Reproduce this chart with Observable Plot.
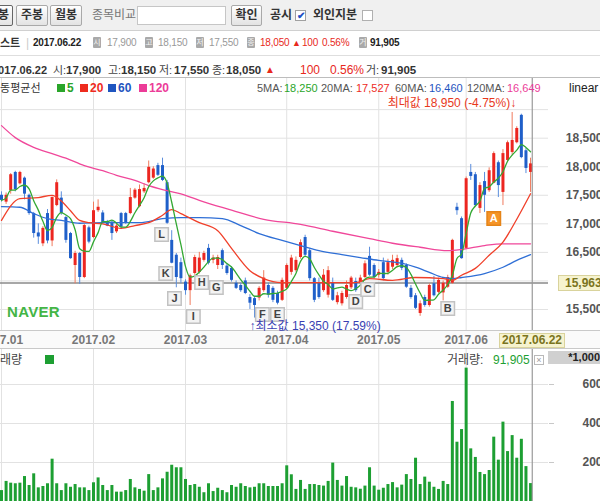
<!DOCTYPE html>
<html><head><meta charset="utf-8">
<script src="https://cdn.jsdelivr.net/npm/d3@7"></script>
<script src="https://cdn.jsdelivr.net/npm/@observablehq/plot@0.6"></script>
<style>
html,body{margin:0;padding:0;background:#fff;}
#root{position:relative;width:600px;height:504px;overflow:hidden;font-family:"Liberation Sans","Noto Sans CJK KR",sans-serif;font-size:12px;color:#333;}
.btn{position:absolute;top:5px;height:19px;border:1px solid #a9a9a9;border-radius:2px;background:linear-gradient(#ffffff,#e3e3e3);font-weight:bold;font-size:12px;line-height:19px;text-align:center;color:#333;}
.ico{display:inline-block;position:absolute;width:8px;height:11px;background:#a9a9a9;color:#f4f4f4;font-size:8px;line-height:11px;text-align:center;border-radius:1px;}
svg{position:absolute;left:0;}
</style></head>
<body><div id="root"></div>
<script>
// ---------------- data ----------------
const monthIdx = [0, 20, 40, 62, 82, 101];
const monthLabels = ["2017.01", "2017.02", "2017.03", "2017.04", "2017.05", "2017.06"];
const priceGrid = [15500, 16000, 16500, 17000, 17500, 18000, 18500, 19000];
const priceTicks = [15500, 16500, 17000, 17500, 18000, 18500];
const volTicks = [200, 400, 600];

const open = [17500,17380,17580,17900,17700,17800,17500,17180,16840,16650,17180,16700,17320,17450,17110,16830,16270,16480,16060,16930,
16760,17230,17190,17020,17030,16860,17180,17180,17180,17450,17300,17560,17720,17800,18020,18020,17720,16710,16450,16320,
15980,15830,16130,16150,16360,16570,16360,16270,16530,16260,16220,15960,15920,16000,15710,15690,15700,15830,15920,15870,15780,15660,
15870,16150,16180,16410,16760,16530,16040,15970,15830,15750,15970,15620,15600,15710,15880,15990,15960,16060,
16430,16270,16100,16320,16150,16240,16270,16360,16270,15870,15740,15430,15710,15570,15950,15800,15790,15890,15960,17290,17090,
16570,17900,17860,17270,17740,17580,17710,18070,17550,18110,18250,18420,18900,18280,17900];
const high = [17560,17540,17880,17920,17920,17820,17520,17200,17000,16950,17250,17470,17770,17560,17130,16850,16520,16500,16990,16960,
17380,17420,17230,17060,17050,17000,17200,17200,17620,17620,17680,17700,18100,18000,18060,18150,17760,16880,16480,16400,
16020,16120,16450,16500,16520,16640,16450,16450,16560,16300,16250,16000,15960,16050,15760,15720,15900,16180,15960,15900,15820,16050,
16300,16450,16420,16720,16800,16560,16060,16050,16200,16250,16050,15800,15820,16000,16080,16050,16100,16350,
16590,16300,16200,16400,16380,16450,16450,16400,16300,15920,15780,15650,15750,15950,16080,16050,16000,16100,16730,17360,17120,
17820,18040,17900,17720,17900,17980,18260,18100,18300,18450,18950,18700,18920,18320,18150];
const low = [17380,17340,17520,17560,17680,17420,17150,16750,16640,16600,16650,16600,17300,17150,16660,16380,15950,15940,16040,16650,
16740,17200,16990,16950,16710,16830,16900,16990,17160,17430,17280,17530,17700,17780,17830,17740,16990,16300,15880,15950,
15750,15570,16100,16120,16330,16280,16300,16200,16200,16100,15980,15850,15800,15760,15500,15350,15650,15800,15700,15620,15580,15640,
15850,16100,16150,16380,16420,16000,15620,15680,15800,15700,15640,15580,15560,15680,15850,15800,15930,16040,
16080,16030,16050,16000,16100,16200,16230,16180,15870,15680,15500,15380,15540,15540,15720,15780,15650,15870,15940,17150,16380,
16550,17760,17300,17180,17200,17550,17700,17460,17320,18090,18200,18400,18140,17880,17550];
const close = [17410,17500,17860,17600,17900,17520,17180,16830,16770,16920,16700,17460,17720,17180,16710,16390,16480,16060,16970,16680,
17230,17290,17020,16960,16830,16960,16940,17020,17460,17590,17600,17620,17990,17960,17850,17760,17010,16310,16060,16040,
15830,16090,16410,16400,16480,16310,16400,16410,16270,16130,16010,15870,15830,15780,15610,15570,15870,16050,15750,15660,15610,16010,
16270,16400,16360,16670,16450,16040,15660,15710,16100,16180,15660,15740,15780,15920,16050,15830,16050,16300,
16100,16060,16150,16040,16320,16360,16390,16220,15890,15710,15520,15600,15570,15920,15740,16010,15960,16060,16710,17230,16390,
17790,17830,17320,17670,17500,17930,18230,17670,18230,18420,18460,18670,18160,17970,18050];
// volume, in thousands of shares
const volume = [56,103,94,91,94,128,82,142,70,77,91,217,91,56,91,73,87,70,70,56,
96,121,82,56,82,48,48,56,113,70,62,53,138,56,70,116,150,186,173,173,
113,82,87,73,45,91,51,68,56,45,82,73,91,77,70,73,91,91,77,77,77,91,
183,137,62,108,62,87,87,82,79,103,197,108,79,128,73,70,63,79,173,79,
58,68,87,97,70,84,138,113,222,87,125,99,73,62,103,87,513,304,369,
684,270,226,149,138,159,330,212,407,256,338,222,319,179,91.905];

const ma20Idx = [0,4,8,11,13,15,17,19,22,26,29,32,35,37,39,43,47,50,54,57,61,65,71,77,80,85,90,96,98,100,103,106,109,112,115];
const ma20Val = [17060,17440,17460,17500,17400,17230,17060,17020,17000,16920,16970,17020,17150,17250,17180,17020,16880,16570,16180,16040,15970,15970,15970,15970,16040,16010,16060,16040,16010,16100,16220,16450,16680,17080,17527];
const ma60Idx = [0,4,7,10,13,17,22,26,30,35,39,43,48,52,56,61,65,69,74,78,82,87,90,93,96,98,100,105,109,112,115];
const ma60Val = [17300,17290,17180,17090,17060,17010,17020,17020,17020,17090,17110,17110,17090,16970,16830,16710,16620,16530,16460,16410,16360,16310,16240,16150,16060,16040,16060,16130,16240,16360,16460];
const ma120Idx = [0,3,7,11,14,18,22,25,29,32,36,40,43,50,57,65,72,80,85,91,97,100,105,109,115];
const ma120Val = [18720,18510,18340,18230,18150,18020,17930,17850,17760,17670,17580,17500,17410,17240,17080,16990,16870,16740,16660,16590,16530,16550,16620,16650,16649];

const annLetters = ["L","K","J","I","H","G","F","E","D","C","B","A"];
const annIdx = [34.8,35.7,37.6,41.7,43.5,46.7,56.7,60,77,79.6,97,107];
const annPrice = [16814,16131,15693,15378,15973,15886,15413,15413,15640,15851,15518,17094];

const crossIdx = 115, crossPrice = 15963, crossDate = "2017.06.22";
const minIdx = 55, minPrice = 15350, minText = "↑최소값 15,350 (17.59%)";
const maxIdx = 111, maxPrice = 18950, maxText = "최대값 18,950 (-4.75%)↓";

// ---------------- build ----------------
const FONT = '"Liberation Sans","Noto Sans CJK KR",sans-serif';
const root = document.getElementById("root");
function put(txt, x, cy, css) {
  const s = document.createElement("span");
  s.textContent = txt;
  s.style.cssText = `position:absolute;left:${x}px;top:${cy - 8}px;line-height:16px;white-space:nowrap;`;
  Object.assign(s.style, css || {});
  root.appendChild(s);
  return s;
}
function box(x, y, w, h, css) {
  const d = document.createElement("div");
  d.style.cssText = `position:absolute;left:${x}px;top:${y}px;width:${w}px;height:${h}px;box-sizing:border-box;`;
  Object.assign(d.style, css || {});
  root.appendChild(d);
  return d;
}

// toolbar
box(0, 0, 600, 31, {background: "#f0f0f0", borderBottom: "1px solid #d0d0d0"});
[["일봉", -30, 43, true], ["주봉", 16, 32], ["월봉", 50, 32]].forEach(([t, x, w, sel]) => {
  const d = box(x, 5, w, 21, {});
  d.className = "btn";
  if (sel) { d.style.borderColor = "#666"; d.style.textAlign = "right"; d.style.paddingRight = "3px"; }
  d.textContent = t;
});
put("종목비교", 92, 15, {color: "#777"});
box(137, 6, 89, 19, {background: "#fff", border: "1px solid #c6c6c6"});
const ok = box(231, 5, 31, 21, {}); ok.className = "btn"; ok.textContent = "확인";
put("공시", 270, 15, {fontWeight: "bold", color: "#333"});
const cb1 = box(295, 10, 11, 11, {background: "#fff", border: "1px solid #a0a0a0", color: "#1d4fc4", fontSize: "10px", lineHeight: "9px", textAlign: "center", fontWeight: "bold"}); cb1.textContent = "✔";
put("외인지분", 313, 15, {fontWeight: "bold", color: "#333"});
box(362, 10, 11, 11, {background: "#fff", border: "1px solid #b0b0b0"});

// row 2
const R2 = {fontSize: "10px", letterSpacing: "-0.2px"};
box(0, 31, 600, 25, {background: "#fff", borderBottom: "1px solid #dedede"});
put("스트", 0, 43, {fontWeight: "bold", color: "#333", fontSize: "11px"});
put("|", 26, 43, {color: "#ccc"});
put("2017.06.22", 33, 43, {...R2, fontWeight: "bold", color: "#222"});
[["시", 93], ["고", 145], ["저", 196], ["종", 247], ["거", 359]].forEach(([t, x]) => {
  const s = document.createElement("span"); s.className = "ico"; s.textContent = t;
  s.style.left = x + "px"; s.style.top = "37px"; root.appendChild(s);
});
put("17,900", 107, 43, {...R2, color: "#999"});
put("18,150", 158, 43, {...R2, color: "#999"});
put("17,550", 209, 43, {...R2, color: "#999"});
put("18,050", 260, 43, {...R2, color: "#e8281c"});
put("▲", 292, 43, {color: "#e8281c", fontSize: "9px"});
put("100", 302, 43, {...R2, color: "#e8281c"});
put("0.56%", 322, 43, {...R2, color: "#e8281c"});
put("91,905", 370, 43, {...R2, color: "#222", fontWeight: "bold"});

// row 3
box(0, 56, 600, 22, {background: "#fff", borderBottom: "1px solid #bdbdbd"});
put("2017.06.22", -8, 70, {fontWeight: "bold", color: "#333", fontSize: "11px"});
[["시:", 53, "17,900", 66], ["고:", 108, "18,150", 121], ["저:", 159, "17,550", 174], ["종:", 212, "18,050", 226]].forEach(([l, x, v, vx]) => {
  put(l, x, 70, {color: "#444", fontSize: "11px"});
  put(v, vx, 70, {color: "#333", fontWeight: "bold", fontSize: "11.5px"});
});
put("▲", 265, 70, {color: "#e8281c", fontSize: "10px"});
put("100", 300, 70, {color: "#e8281c"});
put("0.56%", 330, 70, {color: "#e8281c"});
put("거:", 366, 70, {color: "#444", fontSize: "11px"});
put("91,905", 381, 70, {color: "#333", fontWeight: "bold", fontSize: "11.5px"});

// date band behind the price svg
box(0, 330, 600, 19, {background: "#fafafa", borderTop: "1px solid #c9c9c9", borderBottom: "1px solid #c9c9c9"});

const candles = open.map((o, i) => ({i, o, h: high[i], l: low[i], c: close[i], up: close[i] >= o}));
const vols = volume.map((v, i) => ({i, v}));
const series = (idx, vals) => idx.map((i, k) => ({i, v: vals[k]}));
const ann = annLetters.map((t, k) => ({t, i: annIdx[k], p: annPrice[k], hot: t === "A"}));

const xDomain = [-0.217, 118.9];
const RED = "#ec2620", BLUE = "#1f5fc9";

const price = Plot.plot({
  width: 600, height: 271, marginTop: 0, marginBottom: 19, marginLeft: 0, marginRight: 52,
  style: {fontFamily: FONT, background: "transparent", overflow: "hidden"},
  x: {domain: xDomain, axis: null, label: null},
  y: {domain: [15132, 19545], axis: null, label: null},
  marks: [
    Plot.gridX({ticks: monthIdx, stroke: "#e2e2e2", strokeOpacity: 1}),
    Plot.gridY({ticks: priceGrid, stroke: "#e2e2e2", strokeOpacity: 1}),
    Plot.ruleY([crossPrice], {stroke: "#8a8a8a", strokeWidth: 1.5}),
    Plot.ruleX(candles, {x: "i", y1: "l", y2: "h", stroke: d => d.up ? "#f07a5c" : "#5a8ddc", strokeWidth: 1}),
    Plot.ruleX(candles, {x: "i", y1: "o", y2: "c", stroke: d => d.up ? RED : BLUE, strokeWidth: 3}),
    Plot.line(series(ma120Idx, ma120Val), {x: "i", y: "v", stroke: "#f0479a", strokeWidth: 1.3, curve: "monotone-x"}),
    Plot.line(series(ma60Idx, ma60Val), {x: "i", y: "v", stroke: "#2f6fd6", strokeWidth: 1.3, curve: "monotone-x"}),
    Plot.line(series(ma20Idx, ma20Val), {x: "i", y: "v", stroke: "#f0402a", strokeWidth: 1.3, curve: "monotone-x"}),
    Plot.lineY(candles, Plot.windowY({k: 5, anchor: "end"}, {x: "i", y: "c", stroke: "#33a833", strokeWidth: 1.3, curve: "monotone-x"})),
    Plot.ruleX([crossIdx], {stroke: "#9a9a9a", strokeWidth: 1.2, dx: 1.7}),
    Plot.dot(ann, {x: "i", y: "p", symbol: "square", r: 7.6, fill: d => d.hot ? "#f59427" : "#f3f3f3", stroke: d => d.hot ? "#e58418" : "#c2c2c2"}),
    Plot.text(ann, {x: "i", y: "p", text: "t", fill: d => d.hot ? "#fff" : "#444", fontSize: 11, fontWeight: "bold"}),
    Plot.text([{i: minIdx, p: minPrice}], {x: "i", y: "p", text: () => minText, textAnchor: "start", dx: -5, dy: 8, fill: "#3a3fb3", fontSize: 12}),
    Plot.text([{i: maxIdx, p: maxPrice}], {x: "i", y: "p", text: () => maxText, textAnchor: "end", dx: 4, dy: -9, fill: "#e8391c", fontSize: 12}),
    Plot.axisX({ticks: monthIdx, tickFormat: d => monthLabels[monthIdx.indexOf(d)], tickSize: 0, tickPadding: 5, fontWeight: "bold", fontSize: 12, fill: "#777", anchor: "bottom", label: null}),
    Plot.axisY({anchor: "right", ticks: priceTicks, tickFormat: d3.format(","), tickSize: 0, tickPadding: 54, textAnchor: "end", fontWeight: "bold", fontSize: 12, fill: "#555", label: null})
  ]
});
price.style.top = "78px";
root.appendChild(price);

const vol = Plot.plot({
  width: 600, height: 155, marginTop: 0, marginBottom: 3, marginLeft: 0, marginRight: 52,
  style: {fontFamily: FONT, background: "transparent", overflow: "hidden"},
  x: {domain: xDomain, axis: null, label: null},
  y: {domain: [0, 779.5], axis: null, label: null},
  marks: [
    Plot.gridX({ticks: monthIdx, stroke: "#e2e2e2", strokeOpacity: 1}),
    Plot.gridY({ticks: volTicks, stroke: "#e2e2e2", strokeOpacity: 1}),
    Plot.ruleX(vols, {x: "i", y1: 0, y2: "v", stroke: "#1d9f32", strokeWidth: 3}),
    Plot.ruleX([crossIdx], {stroke: "#9a9a9a", strokeWidth: 1.2, dx: 1.7}),
    Plot.axisY({anchor: "right", ticks: volTicks, tickSize: 5, tickPadding: 49, textAnchor: "end", stroke: "#c8c8c8", fontWeight: "bold", fontSize: 12, fill: "#555", label: null})
  ]
});
vol.style.top = "349px";
root.appendChild(vol);

// overlays positioned with the plot scales
const sx = price.scale("x"), sy = price.scale("y");
const cx = sx.apply(crossIdx) + 1.7;
const dBox = box(Math.round(cx - 33), 333, 66, 15, {background: "#f6f3cf", border: "1px solid #d9d39c", color: "#7a7420", fontWeight: "bold", fontSize: "12px", lineHeight: "13px", textAlign: "center"});
dBox.textContent = crossDate;
const pBox = box(558, Math.round(78 + sy.apply(crossPrice) - 8), 46, 16, {background: "#f6f3cf", border: "1px solid #d9d39c", color: "#7a7420", fontWeight: "bold", fontSize: "12px", lineHeight: "14px", paddingLeft: "6px"});
pBox.textContent = d3.format(",")(crossPrice);

// moving-average legend row inside the chart
put("이동평균선", -10, 88, {color: "#333", fontSize: "11px"});
[["5", 57, "#2aa52a"], ["20", 80, "#ee2b1e"], ["60", 108, "#1f55c0"], ["120", 139, "#ec3c98"]].forEach(([t, x, c]) => {
  box(x, 84, 8, 8, {background: c});
  put(t, x + 10, 88, {color: c, fontWeight: "bold", fontSize: "12px"});
});
[["5MA:", 257, "18,250", 284, "#2aa52a"], ["20MA:", 321, "17,527", 356, "#ee2b1e"], ["60MA:", 395, "16,460", 429, "#1f55c0"], ["120MA:", 467, "16,649", 507, "#ec3c98"]].forEach(([l, x, v, vx, c]) => {
  put(l, x, 88, {color: "#555", fontSize: "11px"});
  put(v, vx, 88, {color: c, fontSize: "11px"});
});
put("linear", 569, 88, {color: "#222", fontSize: "12px"});
put("NAVER", 7, 312, {color: "#43b545", fontWeight: "bold", fontSize: "15px", letterSpacing: "0.3px"});

// volume panel header
put("거래량", -11, 360, {color: "#444", fontSize: "12px"});
box(45, 355, 9, 9, {background: "#1d9f32"});
put("거래량:", 447, 360, {color: "#444", fontSize: "12px"});
put("91,905", 493, 360, {color: "#1d9f32", fontSize: "12px"});
const xb = box(534, 355, 10, 10, {border: "1px solid #b9b9b9", color: "#999", fontSize: "9px", lineHeight: "8px", textAlign: "center", background: "#fff"});
xb.textContent = "×";
const unit = box(548, 351, 52, 13, {background: "#d0d0d0", color: "#222", fontWeight: "bold", fontSize: "11px", lineHeight: "13px", textAlign: "right"});
unit.textContent = "*1,000";
</script>
</body></html>
